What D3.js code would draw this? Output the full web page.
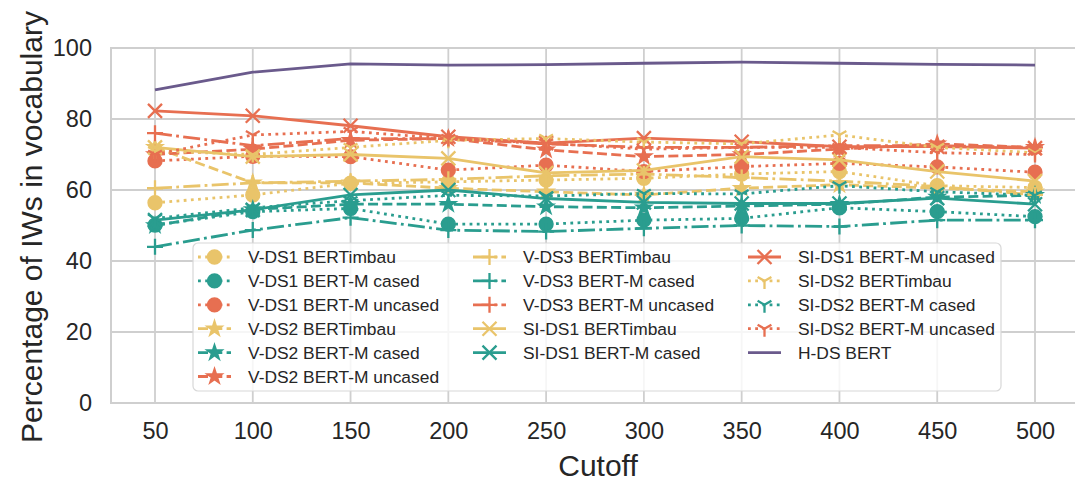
<!DOCTYPE html>
<html>
<head>
<meta charset="utf-8">
<script src="https://cdn.jsdelivr.net/npm/d3@7"></script>
<style>
  body { margin: 0; background: #fff; }
  svg { display: block; font-family: "Liberation Sans", Arial, sans-serif; }
</style>
</head>
<body>
<svg id="chart" width="1075" height="481"></svg>
<script>
// cutoffs on the x axis
const cutoffs = [50, 100, 150, 200, 250, 300, 350, 400, 450, 500];
const yTicks = [0, 20, 40, 60, 80, 100];

// values (percentage of IWs in vocabulary)
const vds1Timbau   = [56.4, 58.6, 61.9, 62.3, 62.8, 63.3, 64.5, 65.2, 61.2, 60.7];
const vds1Cased    = [50.1, 53.9, 54.8, 50.4, 50.4, 51.5, 52.0, 55.0, 53.9, 52.5];
const vds1Uncased  = [68.2, 69.5, 69.4, 65.6, 67.0, 65.2, 66.6, 67.5, 66.5, 65.0];
const vds2Timbau   = [72.0, 62.0, 62.0, 60.5, 59.5, 58.6, 60.5, 61.5, 60.5, 59.5];
const vds2Cased    = [50.0, 54.5, 56.0, 56.0, 55.3, 55.0, 55.5, 56.0, 58.0, 58.5];
const vds2Uncased  = [70.0, 71.5, 74.0, 74.5, 71.3, 69.4, 70.0, 71.5, 73.0, 72.0];
const vds3Timbau   = [60.5, 62.0, 62.5, 63.0, 64.0, 64.5, 63.5, 62.5, 61.0, 58.6];
const vds3Cased    = [44.0, 48.7, 52.2, 48.7, 48.3, 49.2, 50.0, 49.7, 51.5, 51.5];
const vds3Uncased  = [76.0, 72.5, 74.5, 74.5, 73.0, 72.0, 72.0, 72.5, 72.5, 72.0];
const sids1Timbau  = [72.0, 69.4, 70.0, 68.9, 64.8, 65.5, 69.4, 68.5, 65.2, 62.5];
const sids1Cased   = [51.5, 54.4, 58.6, 60.0, 57.6, 56.5, 56.2, 56.2, 57.7, 56.0];
const sids1Uncased = [82.3, 80.9, 78.1, 75.0, 73.2, 74.6, 73.6, 72.2, 72.2, 71.8];
const sids2Timbau  = [71.0, 70.0, 72.0, 74.0, 74.5, 73.5, 73.0, 75.5, 72.0, 70.5];
const sids2Cased   = [52.0, 55.0, 57.0, 58.5, 58.3, 59.0, 58.9, 61.2, 59.5, 58.5];
const sids2Uncased = [70.0, 75.5, 76.5, 74.5, 73.2, 71.5, 72.0, 72.0, 70.5, 70.0];
const hdsBert      = [88.2, 93.2, 95.5, 95.2, 95.3, 95.7, 96.0, 95.7, 95.4, 95.2];

const seriesNames = [
  "V-DS1 BERTimbau", "V-DS1 BERT-M cased", "V-DS1 BERT-M uncased",
  "V-DS2 BERTimbau", "V-DS2 BERT-M cased", "V-DS2 BERT-M uncased",
  "V-DS3 BERTimbau", "V-DS3 BERT-M cased", "V-DS3 BERT-M uncased",
  "SI-DS1 BERTimbau", "SI-DS1 BERT-M cased", "SI-DS1 BERT-M uncased",
  "SI-DS2 BERTimbau", "SI-DS2 BERT-M cased", "SI-DS2 BERT-M uncased",
  "H-DS BERT"
];
const seriesValues = [
  vds1Timbau, vds1Cased, vds1Uncased,
  vds2Timbau, vds2Cased, vds2Uncased,
  vds3Timbau, vds3Cased, vds3Uncased,
  sids1Timbau, sids1Cased, sids1Uncased,
  sids2Timbau, sids2Cased, sids2Uncased,
  hdsBert
];

// styling
const yellow = "#e9c46a", teal = "#2a9d8f", orange = "#e76f51", purple = "#6a5a8c";
const colorOf = [yellow, teal, orange, yellow, teal, orange, yellow, teal, orange,
                 yellow, teal, orange, yellow, teal, orange, purple];
const dashes = { dot: "2.8,4.4", dash: "10,4.3", dashdot: "17,4.3,2.8,4.3", solid: null };
const groupStyle = [
  { dash: "dot", marker: "circle" },
  { dash: "dash", marker: "star" },
  { dash: "dashdot", marker: "plus" },
  { dash: "solid", marker: "x" },
  { dash: "dot", marker: "tri" },
  { dash: "solid", marker: null }
];

const svg = d3.select("#chart");
const pLeft = 111, pRight = 1079, pTop = 48, pBottom = 403;

const x = d3.scaleLinear().domain([27.5, 522.5]).range([pLeft, pRight]);
const y = d3.scaleLinear().domain([0, 100]).range([pBottom, pTop]);

const gridColor = "#cfcfcf";
const textColor = "#262626";

// grid
svg.append("g").selectAll("line").data(cutoffs).enter().append("line")
  .attr("x1", d => x(d)).attr("x2", d => x(d))
  .attr("y1", pTop).attr("y2", pBottom)
  .attr("stroke", gridColor).attr("stroke-width", 1.8);
svg.append("g").selectAll("line").data(yTicks).enter().append("line")
  .attr("x1", pLeft).attr("x2", pRight)
  .attr("y1", d => y(d)).attr("y2", d => y(d))
  .attr("stroke", gridColor).attr("stroke-width", 1.8);
svg.append("rect").attr("x", pLeft).attr("y", pTop)
  .attr("width", pRight - pLeft).attr("height", pBottom - pTop)
  .attr("fill", "none").attr("stroke", gridColor).attr("stroke-width", 2);

// axes (labels only, seaborn style without tick marks)
const xAxis = d3.axisBottom(x).tickValues(cutoffs).tickSize(0).tickPadding(28);
const yAxis = d3.axisLeft(y).tickValues(yTicks).tickSize(0).tickPadding(19);
svg.append("g").attr("transform", `translate(0,${pBottom})`).call(xAxis)
  .call(g => g.select(".domain").remove())
  .selectAll("text").attr("font-size", 23.5).attr("fill", textColor).attr("dy", "0.35em")
  .attr("font-family", "Liberation Sans, Arial, sans-serif");
svg.append("g").attr("transform", `translate(${pLeft},0)`).call(yAxis)
  .call(g => g.select(".domain").remove())
  .selectAll("text").attr("font-size", 23.5).attr("fill", textColor)
  .attr("font-family", "Liberation Sans, Arial, sans-serif");

svg.append("text").attr("x", 598).attr("y", 476)
  .attr("text-anchor", "middle").attr("font-size", 30).attr("fill", textColor)
  .text("Cutoff");
svg.append("text").attr("transform", `translate(42,227) rotate(-90)`)
  .attr("text-anchor", "middle").attr("font-size", 30).attr("fill", textColor)
  .text("Percentage of IWs in vocabulary");

function markerPath(type) {
  if (type === "circle") return d3.symbol(d3.symbolCircle, 150)();
  if (type === "star") return d3.symbol(d3.symbolStar, 75)();
  if (type === "plus") return "M-8,0H8M0,-8V8";
  if (type === "x") return "M-7,-7L7,7M-7,7L7,-7";
  if (type === "tri") return "M0,0V8M0,0L-6.9,-4M0,0L6.9,-4";
  return null;
}
function isFilled(type) { return type === "circle" || type === "star"; }

const line = d3.line().x((d, i) => x(cutoffs[i])).y(d => y(d));

const plot = svg.append("g");
seriesValues.forEach(function (vals, k) {
  const st = groupStyle[Math.floor(k / 3)];
  const c = colorOf[k];
  const g = plot.append("g");
  g.append("path").attr("d", line(vals)).attr("fill", "none")
    .attr("stroke", c).attr("stroke-width", 2.8)
    .attr("stroke-dasharray", dashes[st.dash]);
  if (st.marker) {
    g.selectAll("path.m").data(vals).enter().append("path").attr("class", "m")
      .attr("transform", (d, i) => `translate(${x(cutoffs[i])},${y(d)})`)
      .attr("d", markerPath(st.marker))
      .attr("fill", isFilled(st.marker) ? c : "none")
      .attr("stroke", c).attr("stroke-width", isFilled(st.marker) ? 1.5 : 2.3);
  }
});

// legend
const lg = svg.append("g");
lg.append("rect").attr("x", 193).attr("y", 243).attr("width", 808).attr("height", 148)
  .attr("rx", 5).attr("fill", "white").attr("fill-opacity", 0.8)
  .attr("stroke", "#d8d8d8").attr("stroke-width", 1.2);
const colX = [198, 473, 748];
const rowY0 = 257, rowStep = 23.9;
seriesNames.forEach(function (name, k) {
  const col = k < 6 ? 0 : (k < 11 ? 1 : 2);
  const row = k < 6 ? k : (k < 11 ? k - 6 : k - 11);
  const st = groupStyle[Math.floor(k / 3)];
  const c = colorOf[k];
  const hx = colX[col], hy = rowY0 + row * rowStep;
  lg.append("line").attr("x1", hx).attr("x2", hx + 33).attr("y1", hy).attr("y2", hy)
    .attr("stroke", c).attr("stroke-width", 2.8)
    .attr("stroke-dasharray", dashes[st.dash]);
  if (st.marker) {
    lg.append("path").attr("transform", `translate(${hx + 16.5},${hy})`)
      .attr("d", markerPath(st.marker))
      .attr("fill", isFilled(st.marker) ? c : "none")
      .attr("stroke", c).attr("stroke-width", isFilled(st.marker) ? 1.5 : 2.3);
  }
  lg.append("text").attr("x", hx + 50).attr("y", hy).attr("dy", "0.35em")
    .attr("font-size", 17.4).attr("fill", textColor).text(name);
});
</script>
</body>
</html>
